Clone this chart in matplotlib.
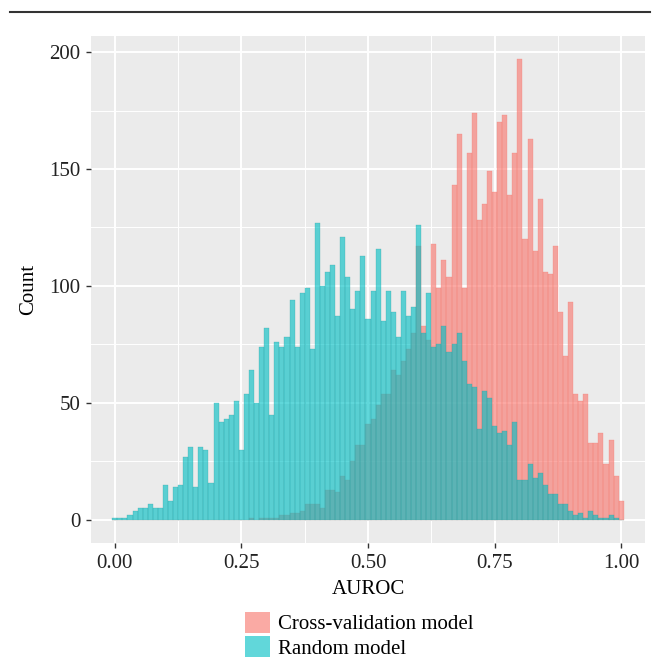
import numpy as np
import matplotlib
matplotlib.use("Agg")
import matplotlib.pyplot as plt
from matplotlib.lines import Line2D
from matplotlib.patches import Patch

# histogram bins of width 0.01, centred on 0.00 ... 1.00
bin_width = 0.01
bin_centres = np.round(np.arange(101) * bin_width, 2)

# counts, one per bin
cv_counts = [
    0, 0, 0, 0, 0, 0, 0, 0, 0, 0,
    0, 0, 0, 0, 0, 0, 0, 0, 0, 0,
    0, 0, 0, 0, 0, 0, 0, 1, 0, 1,
    1, 1, 1, 2, 2, 3, 3, 4, 7, 7,
    7, 5, 13, 13, 12, 19, 17, 25, 32, 32,
    41, 43, 49, 54, 54, 64, 62, 68, 73, 80,
    117, 83, 77, 118, 99, 111, 104, 143, 165, 99,
    157, 174, 128, 135, 149, 140, 170, 173, 139, 157,
    197, 120, 163, 115, 137, 106, 105, 117, 89, 70,
    93, 54, 51, 54, 33, 33, 37, 24, 34, 19,
    8,
]
random_counts = [
    1, 1, 1, 2, 4, 5, 5, 7, 5, 5,
    15, 8, 14, 15, 27, 31, 14, 31, 30, 16,
    50, 42, 43, 45, 51, 30, 54, 64, 50, 74,
    82, 45, 76, 74, 78, 94, 74, 97, 99, 73,
    127, 100, 106, 109, 87, 121, 104, 90, 98, 113,
    86, 98, 116, 85, 98, 89, 78, 98, 87, 91,
    126, 80, 97, 74, 75, 83, 72, 75, 80, 68,
    58, 57, 39, 55, 52, 40, 37, 38, 32, 42,
    17, 17, 24, 18, 20, 15, 11, 11, 7, 7,
    4, 2, 3, 1, 4, 2, 1, 1, 2, 1,
    0,
]
series_labels = ["Cross-validation model", "Random model"]
x_ticks = [0.0, 0.25, 0.5, 0.75, 1.0]
x_ticklabels = ["0.00", "0.25", "0.50", "0.75", "1.00"]
y_ticks = [0, 50, 100, 150, 200]

RED = "#F8766D"
TEAL = "#00BFC4"
ALPHA = 0.62

plt.rcParams["font.family"] = ["Liberation Serif", "DejaVu Serif"]
plt.rcParams["font.size"] = 15

fig = plt.figure(figsize=(6.59, 6.63), dpi=100)
ax = fig.add_axes([91 / 659, 1 - 543 / 663, 554 / 659, 507 / 663])
ax.set_facecolor("#EBEBEB")

ax.bar(bin_centres, cv_counts, width=bin_width, color=RED, alpha=ALPHA,
       edgecolor=RED, linewidth=0.3, zorder=3)
ax.bar(bin_centres, random_counts, width=bin_width, color=TEAL, alpha=ALPHA,
       edgecolor="#2E9FA3", linewidth=0.3, zorder=4)

ax.set_xlim(-0.047, 1.047)
ax.set_ylim(-9.85, 206.85)
ax.set_xticks(x_ticks)
ax.set_xticklabels(x_ticklabels)
ax.set_yticks(y_ticks)
ax.set_xticks([0.125, 0.375, 0.625, 0.875], minor=True)
ax.set_yticks([25, 75, 125, 175], minor=True)
ax.grid(which="major", color="white", linewidth=1.4, zorder=1)
ax.grid(which="minor", color="white", linewidth=0.7, zorder=1)
ax.set_axisbelow(True)
for s in ax.spines.values():
    s.set_visible(False)
ax.tick_params(which="major", length=3.6, width=1.0, color="#333333",
               labelcolor="#222222", labelsize=15, pad=4)
ax.tick_params(which="minor", length=0)

ax.set_xlabel("AUROC", fontsize=15, labelpad=5)
ax.set_ylabel("Count", fontsize=15, labelpad=8)

handles = [Patch(facecolor=RED, alpha=ALPHA, edgecolor="none"),
           Patch(facecolor=TEAL, alpha=ALPHA, edgecolor="none")]
fig.legend(handles, series_labels, loc="upper left",
           bbox_to_anchor=(245 / 659, 1 - 612 / 663), frameon=False,
           handlelength=1.2, handleheight=1.15, handletextpad=0.4,
           labelspacing=0.1, borderpad=0, borderaxespad=0, fontsize=15)

# rule across the top of the figure
fig.add_artist(Line2D([10 / 659, 650 / 659], [1 - 12 / 663, 1 - 12 / 663],
                      color="#333333", linewidth=1.5))

fig.savefig("out.png", dpi=100)
